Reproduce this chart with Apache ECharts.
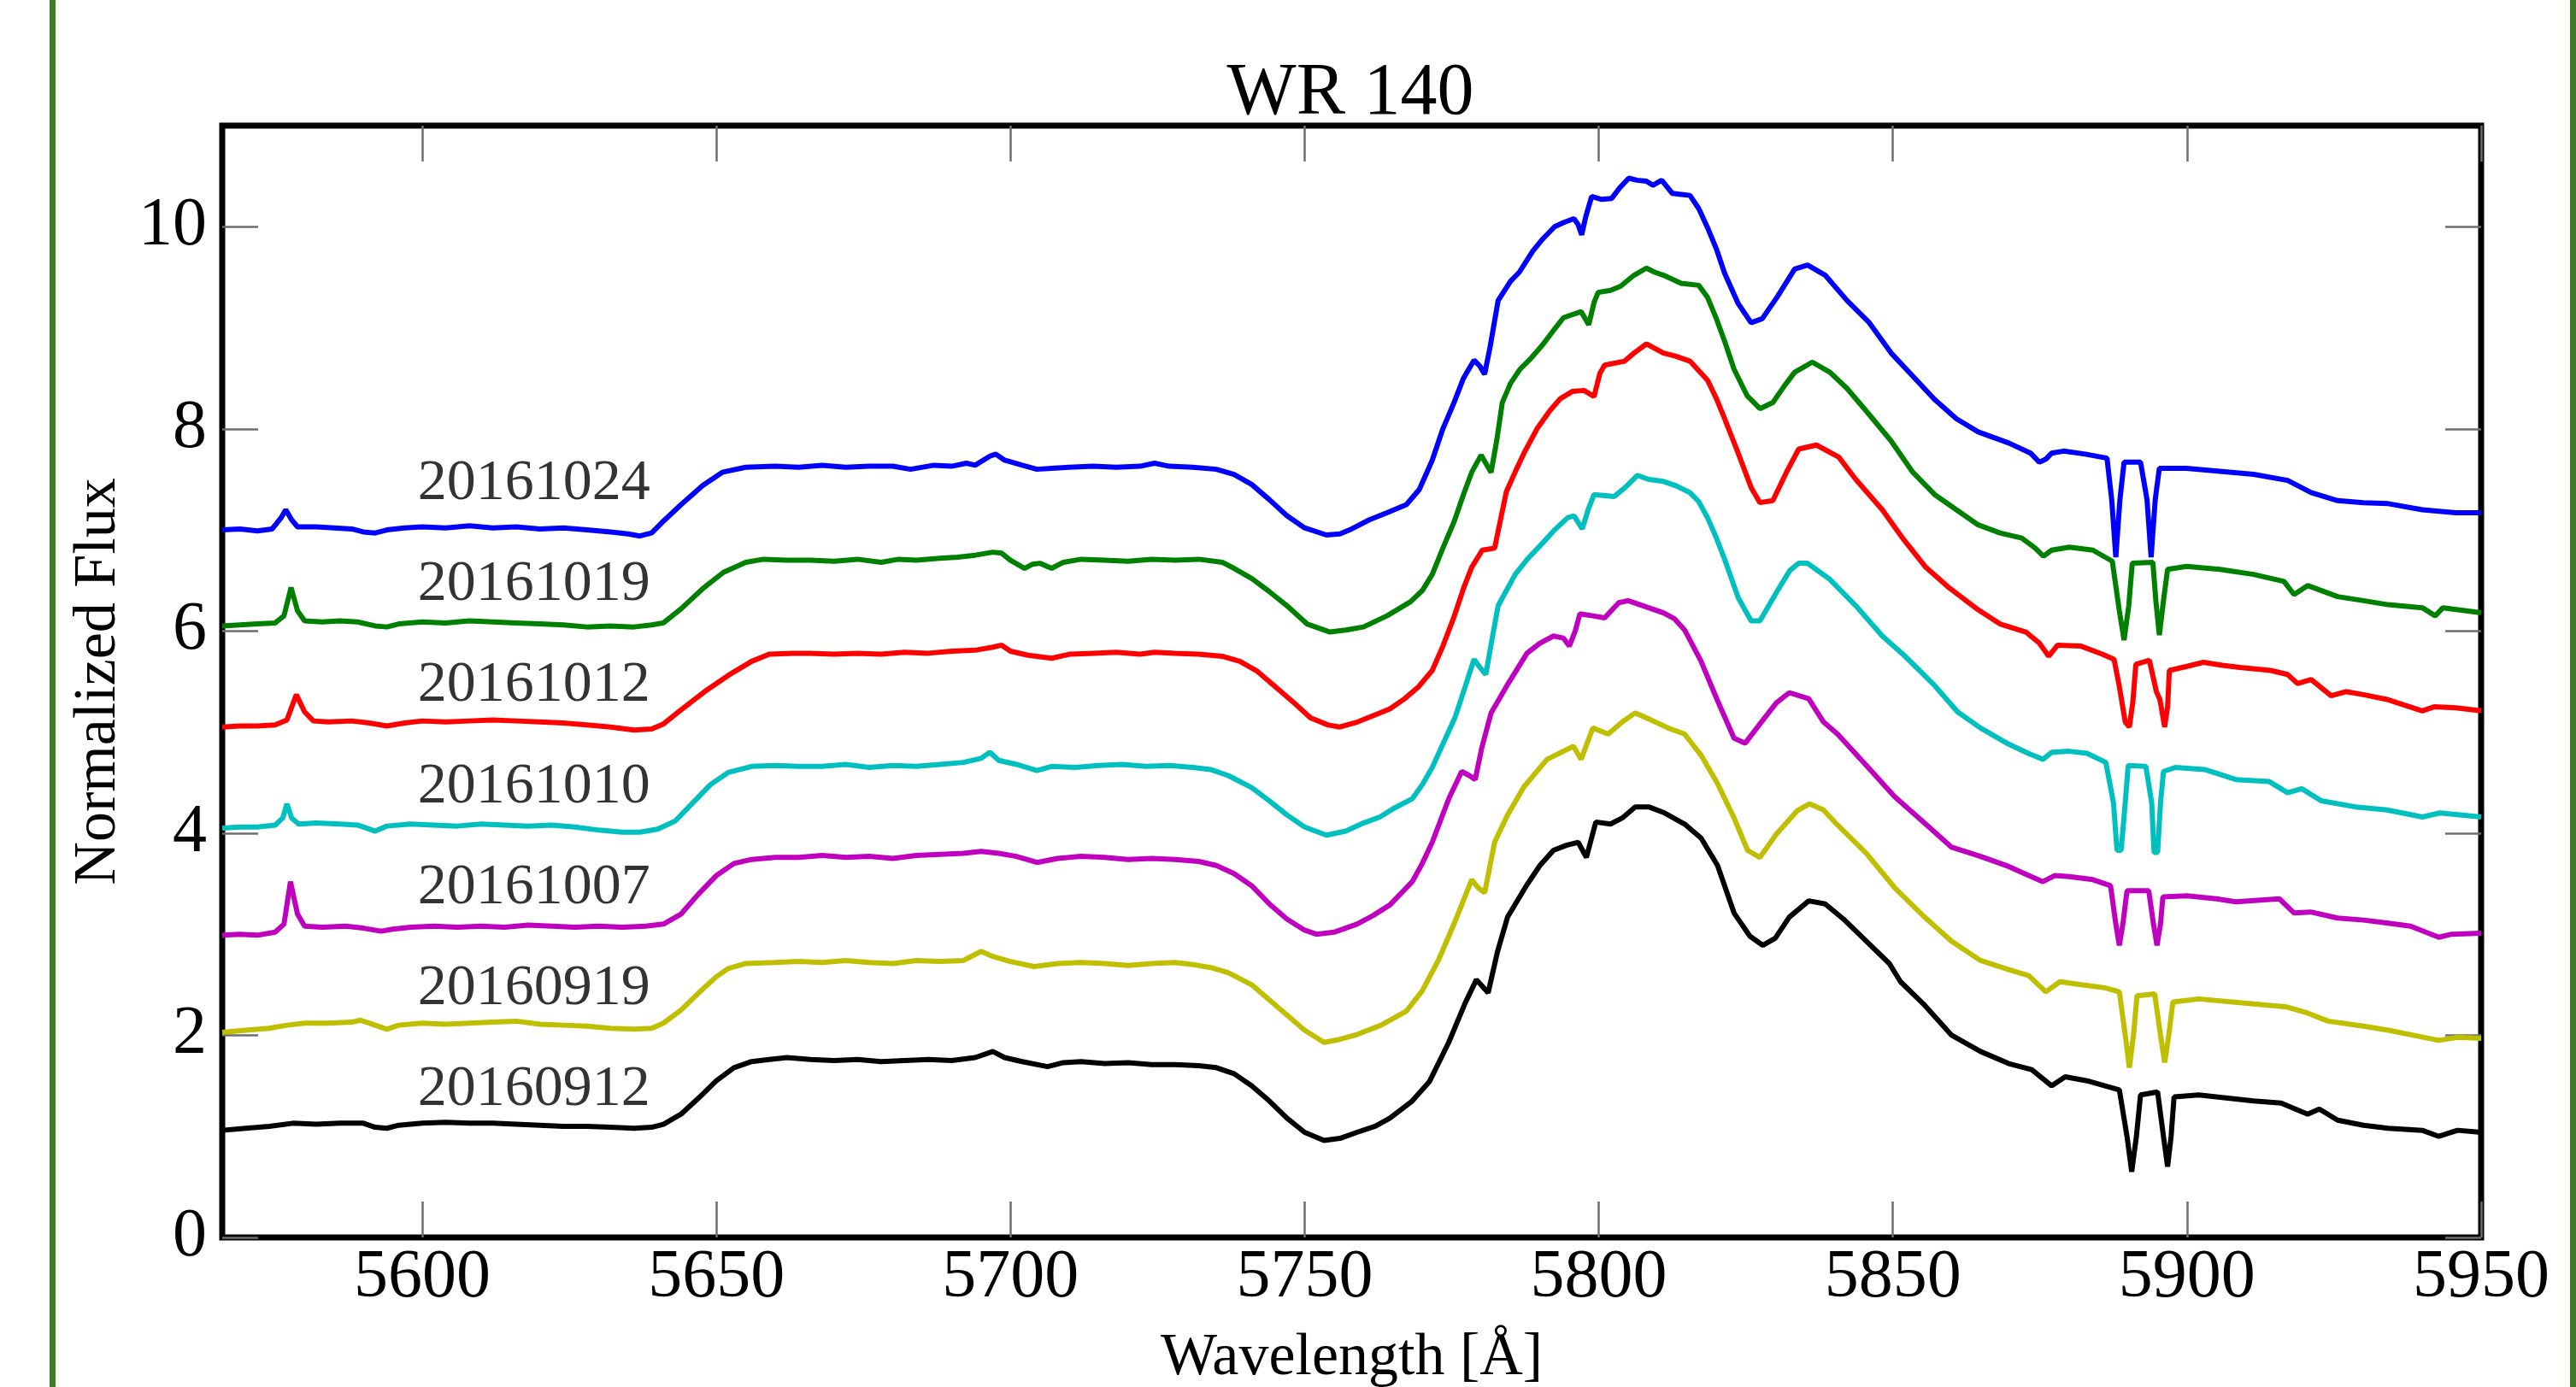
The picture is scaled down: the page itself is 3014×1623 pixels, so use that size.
<!DOCTYPE html>
<html><head><meta charset="utf-8">
<script src="https://cdn.jsdelivr.net/npm/echarts@6/dist/echarts.min.js"></script>
<style>html,body{margin:0;padding:0;background:#fff}#c{width:3014px;height:1623px}</style>
</head><body><div id="c"></div>
<script>
const seriesNames = ['20161024','20161019','20161012','20161010','20161007','20160919','20160912'];
const seriesColors = ['#0000ff','#008000','#ff0000','#00bfbf','#bf00bf','#bfbf00','#000000'];
const xTicks = [5600,5650,5700,5750,5800,5850,5900,5950];
const yTicks = [0,2,4,6,8,10];
const labelWavelength = 5619;
const labelFlux = [7.5,6.5,5.5,4.5,3.5,2.5,1.5];

const s20161024 = [[5566,7.00],[5569,7.01],[5572,6.99],[5574.5,7.01],[5576,7.12],[5576.8,7.20],[5577.8,7.10],[5578.8,7.03],[5582,7.03],[5585,7.02],[5588,7.01],[5590,6.98],[5592,6.97],[5594,7.00],[5597,7.02],[5600,7.03],[5604,7.02],[5608,7.04],[5612,7.02],[5616,7.03],[5620,7.01],[5624,7.02],[5628,7.00],[5632,6.98],[5635,6.96],[5637,6.94],[5639,6.97],[5640.7,7.07],[5644,7.25],[5647.7,7.44],[5651,7.57],[5655,7.62],[5660,7.63],[5664,7.62],[5668,7.64],[5672,7.62],[5676,7.63],[5680,7.63],[5683,7.60],[5687,7.64],[5690,7.63],[5692.5,7.66],[5694,7.64],[5696.5,7.73],[5697.5,7.75],[5699,7.69],[5702,7.64],[5704.5,7.60],[5707,7.61],[5710,7.62],[5714,7.63],[5718,7.62],[5722,7.63],[5724.5,7.66],[5727,7.63],[5731,7.62],[5735,7.60],[5738,7.55],[5741,7.45],[5744,7.30],[5747,7.14],[5750,7.02],[5753.7,6.95],[5756,6.96],[5758,7.01],[5761,7.10],[5764,7.17],[5767.3,7.25],[5769.5,7.40],[5771.7,7.69],[5773.5,8.00],[5775.4,8.26],[5777,8.50],[5778.8,8.68],[5779.8,8.62],[5780.6,8.54],[5781.5,8.80],[5782.9,9.27],[5785,9.46],[5786.5,9.55],[5788.8,9.76],[5790.5,9.88],[5792.5,10.00],[5794,10.04],[5795.8,10.08],[5796.5,10.02],[5797.1,9.92],[5797.8,10.10],[5798.8,10.30],[5800.5,10.27],[5802.2,10.28],[5803.5,10.38],[5805.1,10.48],[5806.5,10.46],[5808.1,10.45],[5809.2,10.41],[5810.7,10.46],[5812.5,10.33],[5814,10.32],[5815.5,10.31],[5817,10.18],[5818.5,9.99],[5820,9.78],[5821.4,9.54],[5823.7,9.24],[5825.9,9.05],[5827.8,9.09],[5830.4,9.31],[5833.3,9.58],[5835.5,9.62],[5838.5,9.52],[5842.2,9.27],[5846,9.05],[5849.7,8.75],[5853.4,8.52],[5857.1,8.29],[5860.8,8.10],[5864.5,7.97],[5869.7,7.86],[5873.4,7.76],[5874.9,7.67],[5876,7.70],[5877,7.76],[5879,7.78],[5882.7,7.75],[5886.4,7.71],[5887.2,7.30],[5887.9,6.73],[5888.6,7.30],[5889.3,7.67],[5892.1,7.67],[5893.2,7.30],[5893.9,6.73],[5894.6,7.30],[5895.3,7.61],[5899.9,7.61],[5905.6,7.58],[5911.3,7.55],[5917.1,7.49],[5921.1,7.37],[5925.6,7.29],[5930,7.27],[5934.2,7.26],[5940,7.20],[5945.7,7.17],[5950,7.17]];

const s20161019 = [[5566,6.05],[5569,6.06],[5572,6.07],[5575,6.08],[5576.5,6.15],[5577.7,6.43],[5578.8,6.20],[5580,6.10],[5583,6.09],[5586,6.10],[5589,6.09],[5592,6.05],[5594,6.04],[5596,6.07],[5600,6.09],[5604,6.08],[5608,6.10],[5612,6.09],[5616,6.08],[5620,6.07],[5624,6.06],[5628,6.04],[5632,6.05],[5636,6.04],[5639,6.06],[5641,6.08],[5644,6.22],[5647.7,6.42],[5651.2,6.58],[5655,6.68],[5658,6.71],[5662,6.70],[5666,6.70],[5670,6.69],[5674,6.71],[5678,6.68],[5681,6.71],[5684,6.70],[5688,6.72],[5691,6.73],[5694,6.75],[5697,6.78],[5698.5,6.77],[5700,6.70],[5702.4,6.62],[5703.7,6.66],[5705,6.67],[5707,6.62],[5709,6.68],[5712,6.71],[5716,6.70],[5720,6.69],[5724,6.71],[5728,6.70],[5732,6.71],[5736,6.68],[5738,6.62],[5741,6.52],[5744,6.39],[5747,6.25],[5750.4,6.07],[5754.3,5.99],[5757,6.01],[5760,6.04],[5764,6.15],[5768,6.29],[5770,6.40],[5771.7,6.56],[5773.5,6.82],[5775.4,7.08],[5777,7.35],[5778.4,7.57],[5780,7.74],[5781.7,7.57],[5782.7,7.90],[5783.6,8.26],[5785,8.45],[5786.6,8.59],[5788.5,8.70],[5790.3,8.82],[5792,8.95],[5794,9.10],[5797,9.16],[5798.3,9.03],[5799.2,9.25],[5799.9,9.35],[5802,9.37],[5803.7,9.41],[5806,9.52],[5808.1,9.59],[5809.5,9.55],[5811,9.52],[5814,9.44],[5817,9.42],[5818.5,9.30],[5820,9.09],[5821.5,8.85],[5823,8.59],[5825.2,8.33],[5827.4,8.20],[5829.6,8.26],[5831.5,8.42],[5833.3,8.56],[5836.3,8.66],[5839.3,8.56],[5842.2,8.40],[5846,8.14],[5849.7,7.88],[5853.4,7.57],[5857.1,7.35],[5860.8,7.20],[5864.5,7.05],[5868.2,6.97],[5871.9,6.92],[5874.2,6.82],[5875.6,6.74],[5877,6.80],[5880,6.83],[5884,6.80],[5887.3,6.69],[5888.5,6.20],[5889.3,5.91],[5890.1,6.25],[5890.7,6.67],[5894.2,6.68],[5894.7,6.30],[5895.3,5.96],[5896,6.30],[5896.7,6.61],[5899.9,6.64],[5905.6,6.61],[5911.3,6.56],[5916.5,6.49],[5918.2,6.36],[5920.5,6.45],[5925.6,6.34],[5930,6.30],[5934.2,6.26],[5940,6.23],[5942.2,6.15],[5943.5,6.23],[5950,6.18]];

const s20161012 = [[5566,5.05],[5569,5.06],[5572,5.06],[5575,5.07],[5577,5.12],[5578.6,5.37],[5580,5.20],[5581.5,5.11],[5584,5.10],[5588,5.11],[5591,5.09],[5594,5.06],[5597,5.09],[5600,5.11],[5604,5.10],[5608,5.11],[5612,5.12],[5616,5.11],[5620,5.10],[5624,5.09],[5628,5.07],[5632,5.05],[5636,5.02],[5639,5.03],[5641,5.08],[5644,5.22],[5648,5.40],[5652,5.56],[5656,5.70],[5659,5.77],[5663,5.78],[5666,5.78],[5670,5.77],[5674,5.78],[5678,5.77],[5682,5.79],[5686,5.78],[5690,5.80],[5694,5.81],[5697,5.84],[5698.5,5.86],[5700,5.80],[5703,5.76],[5707,5.73],[5710,5.77],[5714,5.78],[5718,5.79],[5722,5.77],[5724.5,5.79],[5728,5.78],[5732,5.77],[5736,5.75],[5739,5.70],[5742,5.60],[5745,5.45],[5748,5.30],[5751,5.14],[5754,5.07],[5756,5.05],[5759,5.10],[5762,5.17],[5764.5,5.23],[5767,5.33],[5769.4,5.45],[5771.7,5.61],[5773.5,5.85],[5775.4,6.14],[5777,6.42],[5778.4,6.63],[5780.2,6.80],[5782.3,6.82],[5783.3,7.10],[5784.3,7.38],[5786,7.60],[5787.3,7.76],[5789.5,8.00],[5791.7,8.18],[5793.5,8.30],[5795.5,8.37],[5797.5,8.38],[5799.2,8.32],[5800.2,8.55],[5801,8.63],[5804.4,8.67],[5806,8.75],[5808.1,8.84],[5811,8.75],[5813,8.72],[5815.5,8.67],[5818.5,8.48],[5820,8.30],[5821.4,8.10],[5823.7,7.76],[5825.9,7.42],[5827.4,7.27],[5829.6,7.29],[5831.9,7.57],[5834,7.80],[5837,7.84],[5840.8,7.72],[5843.7,7.50],[5848.2,7.20],[5851.9,6.90],[5855.6,6.63],[5859.3,6.44],[5864.5,6.21],[5868.2,6.07],[5872.6,5.99],[5874.9,5.88],[5876.5,5.75],[5878,5.86],[5882,5.85],[5885.6,5.77],[5887.6,5.72],[5888.5,5.45],[5889.5,5.10],[5890.2,5.05],[5890.8,5.30],[5891.3,5.67],[5893.6,5.71],[5894.8,5.40],[5895.4,5.32],[5896.2,5.05],[5896.7,5.25],[5897,5.61],[5900,5.65],[5902.8,5.69],[5906,5.66],[5909,5.64],[5914.2,5.61],[5917.1,5.57],[5918.8,5.48],[5921.1,5.52],[5924.5,5.36],[5927,5.40],[5930,5.37],[5934.2,5.32],[5940,5.21],[5942,5.25],[5945.7,5.24],[5950,5.21]];

const s20161010 = [[5566,4.05],[5569,4.06],[5572,4.06],[5575,4.08],[5576.3,4.15],[5577,4.29],[5577.8,4.15],[5579,4.09],[5582,4.10],[5586,4.09],[5589,4.08],[5591,4.04],[5592,4.02],[5594,4.07],[5598,4.09],[5602,4.08],[5606,4.07],[5610,4.09],[5614,4.08],[5618,4.07],[5622,4.08],[5626,4.06],[5630,4.03],[5634,4.01],[5637,4.01],[5640,4.04],[5643,4.12],[5646,4.30],[5649,4.48],[5652,4.60],[5656,4.66],[5660,4.67],[5664,4.66],[5668,4.66],[5672,4.68],[5676,4.65],[5680,4.67],[5684,4.66],[5688,4.68],[5692,4.70],[5695,4.74],[5696.5,4.80],[5698,4.72],[5701,4.68],[5704.5,4.62],[5707,4.66],[5711,4.65],[5715,4.67],[5719,4.68],[5723,4.66],[5727,4.67],[5731,4.65],[5734,4.63],[5737,4.57],[5741,4.45],[5744,4.32],[5747,4.18],[5750,4.06],[5753.7,3.98],[5757,4.02],[5760,4.10],[5762.8,4.16],[5765,4.24],[5768.3,4.34],[5770,4.48],[5771.7,4.65],[5773.5,4.88],[5775.6,5.15],[5777.3,5.45],[5778.8,5.72],[5779.8,5.64],[5780.8,5.57],[5781.8,5.90],[5782.9,6.25],[5785.8,6.56],[5788,6.72],[5790.3,6.86],[5792.5,7.00],[5794.7,7.12],[5795.8,7.14],[5797.2,7.01],[5798.2,7.20],[5799.2,7.35],[5802.6,7.33],[5804.5,7.42],[5806.6,7.54],[5808.5,7.50],[5811,7.48],[5813,7.44],[5815.5,7.37],[5817,7.28],[5818.5,7.12],[5820,6.92],[5821.4,6.71],[5823.7,6.33],[5825.9,6.10],[5827.4,6.10],[5830.4,6.40],[5832.5,6.60],[5834,6.67],[5835.5,6.67],[5839.3,6.51],[5843.7,6.25],[5848.2,5.95],[5851.9,5.76],[5857.1,5.46],[5861,5.20],[5864.9,5.04],[5869.7,4.88],[5873,4.79],[5875.5,4.73],[5877,4.80],[5880,4.81],[5883,4.79],[5886.2,4.70],[5887.5,4.30],[5888.1,3.83],[5888.8,3.83],[5889.5,4.30],[5890,4.67],[5893,4.66],[5894,4.30],[5894.4,3.81],[5895,3.81],[5895.5,4.30],[5896,4.61],[5898,4.65],[5903,4.63],[5908.3,4.53],[5914,4.51],[5917.1,4.40],[5919.5,4.44],[5922.8,4.32],[5928.6,4.26],[5934,4.23],[5940,4.16],[5943,4.20],[5950,4.16]];

const s20161007 = [[5566,2.99],[5569,3.00],[5572,2.99],[5575,3.02],[5576.5,3.10],[5577.6,3.52],[5578.8,3.20],[5580,3.08],[5583,3.07],[5587,3.08],[5590,3.06],[5593,3.03],[5595,3.05],[5598,3.07],[5602,3.08],[5606,3.07],[5610,3.08],[5614,3.07],[5618,3.09],[5622,3.08],[5626,3.07],[5630,3.08],[5634,3.07],[5638,3.08],[5641,3.10],[5644,3.20],[5647,3.40],[5650,3.58],[5653,3.70],[5656,3.74],[5660,3.76],[5664,3.76],[5668,3.78],[5672,3.76],[5676,3.77],[5680,3.75],[5684,3.78],[5688,3.79],[5692,3.80],[5695,3.82],[5698,3.80],[5701,3.77],[5704.5,3.71],[5708,3.75],[5712,3.77],[5716,3.76],[5720,3.74],[5724,3.75],[5728,3.74],[5732,3.72],[5735,3.68],[5738,3.60],[5741,3.48],[5744,3.30],[5747,3.15],[5750,3.04],[5752,3.00],[5755,3.02],[5758.9,3.10],[5761.5,3.18],[5764.5,3.29],[5768.3,3.52],[5770,3.70],[5771.7,3.91],[5774.5,4.34],[5776.7,4.61],[5778,4.57],[5779,4.53],[5780.1,4.84],[5781.7,5.19],[5784.5,5.47],[5787.8,5.78],[5790,5.88],[5792.3,5.95],[5794,5.93],[5795,5.85],[5796,6.00],[5796.8,6.17],[5799,6.15],[5801,6.13],[5803.4,6.28],[5805,6.30],[5807,6.26],[5809,6.22],[5811,6.18],[5812.9,6.12],[5814.6,6.01],[5817.4,5.70],[5820.2,5.31],[5823,4.94],[5824.9,4.89],[5827.4,5.08],[5830.2,5.29],[5832.4,5.39],[5835.7,5.33],[5838.2,5.10],[5840.6,4.98],[5845.5,4.67],[5850.3,4.36],[5855.2,4.11],[5860,3.86],[5864.9,3.77],[5869.7,3.67],[5873.1,3.58],[5875.5,3.52],[5877.5,3.58],[5880,3.57],[5884,3.54],[5887,3.48],[5887.9,3.10],[5888.5,2.89],[5889.1,3.10],[5889.8,3.43],[5893.5,3.43],[5894.3,3.10],[5894.9,2.89],[5895.5,3.10],[5895.9,3.37],[5900,3.38],[5905,3.35],[5908.3,3.32],[5915.7,3.35],[5918.2,3.21],[5921,3.22],[5925.6,3.16],[5930,3.14],[5934.2,3.11],[5938,3.08],[5942.8,2.97],[5945,3.00],[5950,3.01]];

const s20160919 = [[5566,2.03],[5570,2.05],[5574,2.07],[5577,2.10],[5580,2.12],[5584,2.12],[5588,2.13],[5589.5,2.15],[5592,2.10],[5594,2.06],[5596,2.10],[5600,2.12],[5604,2.11],[5608,2.12],[5612,2.13],[5616,2.14],[5620,2.11],[5624,2.10],[5628,2.09],[5632,2.07],[5636,2.06],[5639,2.07],[5641,2.12],[5644,2.25],[5647,2.42],[5650,2.58],[5652,2.66],[5655,2.71],[5660,2.72],[5664,2.73],[5668,2.72],[5672,2.74],[5676,2.72],[5680,2.71],[5684,2.74],[5688,2.73],[5692,2.74],[5695,2.83],[5697,2.78],[5700,2.73],[5704,2.68],[5708,2.71],[5712,2.72],[5716,2.71],[5720,2.69],[5724,2.71],[5728,2.72],[5731,2.70],[5734,2.67],[5737,2.62],[5741,2.50],[5744,2.35],[5747,2.20],[5750,2.05],[5753.3,1.93],[5756,1.96],[5759,2.01],[5763,2.10],[5767.3,2.24],[5770,2.44],[5772.8,2.75],[5775.6,3.13],[5778.4,3.54],[5779.5,3.46],[5780.6,3.41],[5782.3,3.91],[5784.5,4.18],[5787.3,4.46],[5791.2,4.73],[5795.7,4.86],[5797,4.73],[5799,5.04],[5801.6,4.98],[5804,5.10],[5806.2,5.19],[5808.5,5.13],[5811.8,5.04],[5814.6,4.98],[5817.4,4.77],[5820.2,4.49],[5823,4.15],[5825.3,3.83],[5827.4,3.76],[5830.2,3.99],[5833.7,4.22],[5835.8,4.29],[5838.2,4.23],[5840.6,4.08],[5845.5,3.80],[5850.3,3.46],[5855.2,3.18],[5860,2.93],[5864.9,2.74],[5869.7,2.65],[5873.1,2.59],[5876,2.43],[5878.4,2.53],[5882,2.50],[5886,2.47],[5888.5,2.43],[5889.5,2.00],[5890.2,1.68],[5890.9,2.00],[5891.5,2.39],[5894.5,2.41],[5895.5,2.00],[5896.2,1.73],[5896.9,2.00],[5897.6,2.33],[5902,2.36],[5911.3,2.31],[5917,2.28],[5920.5,2.22],[5924,2.14],[5930,2.09],[5934.2,2.05],[5942.8,1.95],[5946,1.98],[5950,1.97]];

const s20160912 = [[5566,1.06],[5570,1.08],[5574,1.10],[5578,1.13],[5582,1.12],[5586,1.13],[5590,1.13],[5592,1.09],[5594,1.08],[5596,1.11],[5600,1.13],[5604,1.14],[5608,1.13],[5612,1.13],[5616,1.12],[5620,1.11],[5624,1.10],[5628,1.10],[5632,1.09],[5636,1.08],[5639,1.09],[5641,1.12],[5644,1.22],[5647,1.38],[5650,1.55],[5653,1.68],[5656,1.74],[5659,1.76],[5662,1.78],[5666,1.76],[5670,1.75],[5674,1.76],[5678,1.74],[5682,1.75],[5686,1.76],[5690,1.75],[5694,1.78],[5697,1.84],[5699,1.78],[5702,1.74],[5706.3,1.69],[5709,1.73],[5712,1.74],[5716,1.72],[5720,1.73],[5724,1.71],[5728,1.71],[5732,1.70],[5735,1.68],[5738,1.62],[5741,1.50],[5744,1.35],[5747,1.18],[5750,1.04],[5753.3,0.96],[5756,0.98],[5758.9,1.04],[5762,1.10],[5764.5,1.18],[5768.3,1.35],[5771.2,1.54],[5774.5,1.93],[5777.3,2.32],[5779.2,2.55],[5780.3,2.48],[5781.2,2.42],[5782.8,2.83],[5784.5,3.17],[5787.8,3.49],[5790,3.68],[5792.3,3.83],[5794.5,3.88],[5796.5,3.91],[5797.9,3.76],[5799.5,4.11],[5802,4.09],[5804,4.15],[5806.2,4.26],[5808.5,4.26],[5811.2,4.20],[5814.6,4.09],[5817.4,3.95],[5820.2,3.68],[5823,3.21],[5825.7,2.98],[5827.9,2.89],[5830,2.96],[5832.4,3.17],[5835.7,3.33],[5838.5,3.30],[5841.6,3.15],[5845.5,2.93],[5849.4,2.71],[5851.3,2.53],[5855.2,2.31],[5860,2.00],[5864.9,1.84],[5869.7,1.72],[5873.6,1.66],[5877,1.50],[5879.3,1.59],[5883,1.55],[5888.5,1.46],[5889.8,1.00],[5890.6,0.65],[5891.4,1.00],[5892.1,1.41],[5895,1.44],[5896,1.00],[5896.7,0.70],[5897.3,1.00],[5897.8,1.39],[5902,1.41],[5911.3,1.35],[5916,1.33],[5920.5,1.22],[5922.5,1.27],[5925.6,1.16],[5930,1.11],[5934.2,1.08],[5940,1.06],[5942.8,1.00],[5946,1.06],[5950,1.04]];

const seriesData = [s20161024, s20161019, s20161012, s20161010, s20161007, s20160919, s20160912];

const FONT = "'Liberation Serif', 'DejaVu Serif', serif";
const xMin = 5566, xMax = 5950, yMin = 0, yMax = 11;

const chart = echarts.init(document.getElementById('c'), null, {renderer: 'canvas'});

const tickStyle = {show: true, inside: true, length: 42, lineStyle: {color: '#6e6e6e', width: 2.5}};
const noLine = {show: false, onZero: false};

const lineSeries = seriesNames.map((name, i) => ({
  name: name,
  type: 'line',
  xAxisIndex: 0, yAxisIndex: 0,
  data: seriesData[i],
  showSymbol: false,
  symbol: 'none',
  smooth: false,
  clip: true,
  lineStyle: {color: seriesColors[i], width: 6},
  itemStyle: {color: seriesColors[i]},
  z: 3 + i,
  silent: true
}));

const labelSeries = {
  name: 'labels',
  type: 'scatter',
  xAxisIndex: 0, yAxisIndex: 0,
  symbolSize: 1,
  itemStyle: {color: 'rgba(0,0,0,0)'},
  data: seriesNames.map((n, i) => [labelWavelength, labelFlux[i], n]),
  label: {
    show: true,
    position: 'inside',
    offset: [0, 5],
    formatter: p => p.value[2],
    color: '#000000',
    textBorderWidth: 0,
    textBorderColor: 'transparent',
    textShadowBlur: 0,
    fontFamily: FONT,
    fontSize: 68
  },
  silent: true,
  z: 20
};

chart.setOption({
  animation: false,
  backgroundColor: '#ffffff',
  grid: {left: 260, right: 111, top: 147, bottom: 175, show: true, containLabel: false, outerBoundsMode: 'none',
         borderColor: '#000', borderWidth: 7, backgroundColor: 'rgba(0,0,0,0)'},
  graphic: [
    {type: 'rect', left: 58, top: 0, shape: {width: 7, height: 1623}, style: {fill: '#3e7b22'}, z: 100},
    {type: 'rect', left: 3007, top: 0, shape: {width: 7, height: 1623}, style: {fill: '#3e7b22'}, z: 100},
    {type: 'text', x: 1580, y: 110, style: {text: 'WR 140', textAlign: 'center', textVerticalAlign: 'middle', fontFamily: FONT, fontSize: 86, fill: '#000'}, z: 100}
  ],
  xAxis: [
    {type: 'value', min: xMin, max: xMax, position: 'bottom', gridIndex: 0,
     name: 'Wavelength [Å]', nameLocation: 'middle', nameGap: 107,
     nameTextStyle: {fontFamily: FONT, fontSize: 70, color: '#000'},
     axisLine: noLine,
     axisTick: Object.assign({customValues: xTicks}, tickStyle),
     axisLabel: {customValues: xTicks, formatter: v => String(v), margin: 8, fontFamily: FONT, fontSize: 80, color: '#000'},
     splitLine: {show: false}},
    {type: 'value', min: xMin, max: xMax, position: 'top', gridIndex: 0,
     axisLine: noLine,
     axisTick: Object.assign({customValues: xTicks}, tickStyle),
     axisLabel: {show: false}, splitLine: {show: false}}
  ],
  yAxis: [
    {type: 'value', min: yMin, max: yMax, position: 'left', gridIndex: 0,
     name: 'Normalized Flux', nameLocation: 'middle', nameGap: 105, nameRotate: 90,
     nameTextStyle: {fontFamily: FONT, fontSize: 70, color: '#000'},
     axisLine: noLine,
     axisTick: Object.assign({customValues: yTicks}, tickStyle),
     axisLabel: {customValues: yTicks, formatter: v => String(v), margin: 18, fontFamily: FONT, fontSize: 80, color: '#000'},
     splitLine: {show: false}},
    {type: 'value', min: yMin, max: yMax, position: 'right', gridIndex: 0,
     axisLine: noLine,
     axisTick: Object.assign({customValues: yTicks}, tickStyle),
     axisLabel: {show: false}, splitLine: {show: false}}
  ],
  series: lineSeries.concat([labelSeries])
});
</script>
</body></html>
